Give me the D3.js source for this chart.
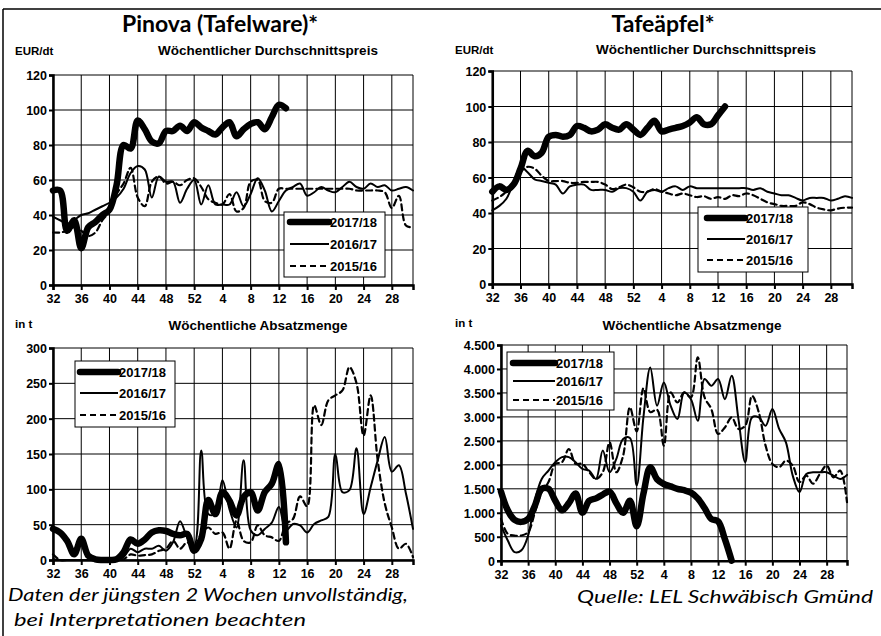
<!DOCTYPE html>
<html><head><meta charset="utf-8">
<script src="https://cdn.jsdelivr.net/npm/d3@7"></script>
<style>
html,body{margin:0;padding:0;background:#fff;}
svg{display:block;}
.b{font-family:"Liberation Sans",Arial,sans-serif;font-weight:bold;fill:#000;}
</style>
</head><body>
<script>
// ---- categories (calendar weeks, season 32 .. 31) ----
const weeks = [32,33,34,35,36,37,38,39,40,41,42,43,44,45,46,47,48,49,50,51,52,
  1,2,3,4,5,6,7,8,9,10,11,12,13,14,15,16,17,18,19,20,21,22,23,24,25,26,27,28,29,30,31];
const seasons = ["2017/18","2016/17","2015/16"];

// ---- Pinova price EUR/dt ----
const pinovaPrice2017 = [54,54,31,37,21,33,36,40,43,57,80,78,94,89,82,81,88,88,91,88,93,90,88,86,90,93,85,89,92,93,89,96,103,101];
const pinovaPrice2016 = [39,37,35,37,40,41,43,45,47,50,55,64,68,66,50,62,59,59,47,55,60,46,57,46,46,46,53,45,52,61,54,42,48,54,56,58,51,53,56,54,53,56,59,56,55,58,56,57,54,55,56,54];
const pinovaPrice2015 = [30,30,31,33,31,28,30,37,42,52,58,67,50,45,59,62,58,59,57,60,61,56,49,47,46,52,42,44,59,60,48,47,55,55,55,55,55,55,55,55,55,55,55,54,54,54,54,53,44,51,34,33];

// ---- Tafeäpfel price EUR/dt ----
const applePrice2017 = [52,55,53,56,65,75,72,74,83,84,83,84,89,88,86,87,90,88,87,90,87,84,88,92,86,87,88,89,91,94,90,90,95,100];
const applePrice2016 = [41.5,44,48,57,66,63,59,58,57,56,51,55,56,56,53,53,53,52,54,54,52,47,52,53,52,54,55,53,55,54,54,54,54,54,54,54,54,53,54,52,51,50,50,48.5,47,48.5,48.5,48.5,47,48,49.5,48.5];
const applePrice2015 = [47,49,52,55,63,66,65,61,58,58,58,57,57,57.5,57.5,57.5,56,53.5,54.5,56,54.5,52,52,53.5,52,51,50,51,50,49,49.5,48,49,48,50,49.5,51,50,48,46,45,44,44,44,46,45,43,42,41.5,42.5,43,43];

// ---- Pinova quantity t ----
const pinovaQty2017 = [44,39,27,8,30,6,1,0,0,1,11,29,23,29,39,42,41,37,35,37,13,30,85,65,96,84,63,89,96,70,96,108,136,25];
const pinovaQty2016 = [1,0,0,0,0,0,0,0,0,0,4,16,11,16,16,20,13,25,55,32,20,155,65,65,113,72,46,141,42,35,44,53,75,42,51,49,39,51,56,61,150,96,99,158,65,103,141,174,125,134,94,44];
const pinovaQty2015 = [8,0,0,0,0,0,0,0,0,0,1,8,6,7,8,13,16,27,16,25,18,37,46,37,39,16,56,27,25,49,35,32,27,51,58,90,76,219,191,226,233,240,273,250,176,233,141,80,46,16,23,4];

// ---- Tafeäpfel quantity t ----
const appleQty2017 = [1440,1050,850,810,870,1150,1500,1500,1250,1050,1200,1400,1000,1250,1300,1380,1440,1200,1000,1250,720,1400,1950,1700,1600,1550,1500,1470,1420,1300,1100,870,820,450,0];
const appleQty2016 = [735,420,180,215,525,1255,1705,1880,2055,2160,2160,2055,1915,1880,1705,2300,1845,2125,2540,2560,1570,3000,4030,3235,3720,3235,2955,3510,3370,2920,3790,3650,3790,3370,3860,2955,2055,2990,2990,2815,3165,2750,2470,1775,1430,1810,1845,1845,1845,1775,1705,1790];
const appleQty2015 = [875,560,525,525,595,1010,1430,1640,2020,2055,2330,2020,2020,1845,1705,1845,2470,1845,2190,3200,2700,3600,3100,3150,2400,3510,3300,3510,3410,4240,3410,3165,2645,2780,2990,2750,2815,3440,3095,2400,2020,1950,2090,1985,1640,1775,1605,1810,1985,1740,1880,1220];

// ---- axis tick values ----
const priceTicks = [0,20,40,60,80,100,120];
const pinovaQtyTicks = [0,50,100,150,200,250,300];
const appleQtyTicks = [0,500,1000,1500,2000,2500,3000,3500,4000,4500];
const xTickIdx = d3.range(0, weeks.length, 4);

const W = 881, H = 636;
const svg = d3.select("body").append("svg").attr("width", W).attr("height", H);

// frame
svg.append("line").attr("x1",3).attr("x2",W).attr("y1",9).attr("y2",9).attr("stroke","#000").attr("stroke-width",1.5);
svg.append("line").attr("x1",3).attr("x2",3).attr("y1",9).attr("y2",H).attr("stroke","#000").attr("stroke-width",1.5);

const fmt = d3.format(",");
const deFmt = v => fmt(v).replace(/,/g, ".");

function panel(cfg) {
  const x = d3.scaleLinear().domain([0, weeks.length - 1]).range([cfg.x0, cfg.x1]);
  const y = d3.scaleLinear().domain([0, cfg.ymax]).range([cfg.y0, cfg.y1]);
  const g = svg.append("g");
  // horizontal grid
  g.selectAll(".hg").data(cfg.ticks).join("line")
    .attr("x1", cfg.x0).attr("x2", cfg.x1).attr("y1", d => y(d)).attr("y2", d => y(d))
    .attr("stroke", "#000").attr("stroke-width", 1);
  // vertical grid
  g.selectAll(".vg").data(xTickIdx.concat([weeks.length - 1])).join("line")
    .attr("x1", d => x(d)).attr("x2", d => x(d)).attr("y1", cfg.y0).attr("y2", cfg.y1)
    .attr("stroke", "#000").attr("stroke-width", 1);
  // axes
  const ya = d3.axisLeft(y).tickValues(cfg.ticks).tickSize(4).tickFormat(cfg.fmt);
  const ga = g.append("g").attr("transform", `translate(${cfg.x0},0)`).call(ya);
  ga.select(".domain").attr("stroke-width", 2.5);
  ga.selectAll(".tick line").attr("stroke-width", 2);
  ga.selectAll("text").attr("class", "b").style("font-size", "12.5px").attr("x", -6).attr("dy", "0.36em");
  const xa = d3.axisBottom(x).tickValues(xTickIdx).tickSize(5).tickFormat(i => weeks[i]);
  const gx = g.append("g").attr("transform", `translate(0,${cfg.y0})`).call(xa);
  gx.select(".domain").attr("stroke-width", 2.5);
  gx.selectAll(".tick line").attr("stroke-width", 2);
  gx.selectAll("text").attr("class", "b").style("font-size", "12.5px").attr("y", 7).attr("dy", "0.9em");

  // series
  const line = d3.line().x((d, i) => x(i)).y(d => y(d)).curve(d3.curveCatmullRom.alpha(0.5));
  const styles = [
    {w: 6.5, dash: null},
    {w: 2, dash: null},
    {w: 2.2, dash: "6,4"}
  ];
  [cfg.s2015, cfg.s2016, cfg.s2017].forEach((s, k) => {
    const st = styles[2 - k];
    g.append("path").datum(s).attr("d", line).attr("fill", "none").attr("stroke", "#000")
      .attr("stroke-width", st.w).attr("stroke-linejoin", "round").attr("stroke-linecap", "round")
      .attr("stroke-dasharray", st.dash);
  });

  // legend
  const L = cfg.leg;
  g.append("rect").attr("x", L.x).attr("y", L.y).attr("width", L.w).attr("height", L.h)
    .attr("fill", "#fff").attr("stroke", "#000").attr("stroke-width", 1);
  seasons.forEach((s, k) => {
    const cy = L.rows[k];
    g.append("line").attr("x1", L.lx0).attr("x2", L.lx1).attr("y1", cy).attr("y2", cy)
      .attr("stroke", "#000").attr("stroke-width", styles[k].w).attr("stroke-linecap", k === 0 ? "round" : "butt")
      .attr("stroke-dasharray", styles[k].dash);
    g.append("text").attr("class", "b").attr("x", L.lx1 + 1).attr("y", cy).attr("dy", "0.36em")
      .style("font-size", "13px").text(s);
  });

  // unit + subtitle
  g.append("text").attr("class", "b").attr("x", cfg.unitX).attr("y", cfg.unitY).style("font-size", "11.5px").text(cfg.unit);
  g.append("text").attr("class", "b").attr("x", cfg.subX).attr("y", cfg.subY).attr("text-anchor", "middle")
    .style("font-size", "13.5px").text(cfg.sub);
}

panel({x0:53, x1:413, y0:285, y1:75, ymax:120, ticks:priceTicks, fmt:d=>d,
  s2017:pinovaPrice2017, s2016:pinovaPrice2016, s2015:pinovaPrice2015,
  leg:{x:284, y:212, w:101, h:65, rows:[222,244,266], lx0:290, lx1:329},
  unit:"EUR/dt", unitX:15, unitY:55, sub:"Wöchentlicher Durchschnittspreis", subX:268, subY:55});

panel({x0:492.3, x1:852, y0:284, y1:71, ymax:120, ticks:priceTicks, fmt:d=>d,
  s2017:applePrice2017, s2016:applePrice2016, s2015:applePrice2015,
  leg:{x:698, y:207, w:110, h:65, rows:[218,239,260], lx0:707, lx1:745},
  unit:"EUR/dt", unitX:455, unitY:54, sub:"Wöchentlicher Durchschnittspreis", subX:706, subY:54});

panel({x0:53, x1:413, y0:560, y1:348, ymax:300, ticks:pinovaQtyTicks, fmt:d=>d,
  s2017:pinovaQty2017, s2016:pinovaQty2016, s2015:pinovaQty2015,
  leg:{x:75, y:361, w:100, h:66, rows:[372,393,415], lx0:80, lx1:118},
  unit:"in t", unitX:15, unitY:328, sub:"Wöchentliche Absatzmenge", subX:258, subY:330});

panel({x0:501, x1:847, y0:560.7, y1:345, ymax:4500, ticks:appleQtyTicks, fmt:deFmt,
  s2017:appleQty2017, s2016:appleQty2016, s2015:appleQty2015,
  leg:{x:507, y:352, w:107, h:58, rows:[363,381,400], lx0:513, lx1:555},
  unit:"in t", unitX:455, unitY:327, sub:"Wöchentliche Absatzmenge", subX:692, subY:330});

// titles
svg.append("text").attr("x", 220).attr("y", 32).attr("text-anchor", "middle")
  .style("font-family", "Lato, 'Noto Sans', sans-serif").style("font-weight", "bold").style("font-size", "23px")
  .text("Pinova (Tafelware)*");
svg.append("text").attr("x", 663).attr("y", 32).attr("text-anchor", "middle")
  .style("font-family", "Lato, 'Noto Sans', sans-serif").style("font-weight", "bold").style("font-size", "23px")
  .text("Tafeäpfel*");

// footnotes
const foot = svg.append("g").style("font-family", "Lato, 'Noto Sans', sans-serif").style("font-style", "italic").style("font-size", "17px");
foot.append("text").attr("x", 8).attr("y", 601).attr("textLength", 400).attr("lengthAdjust", "spacingAndGlyphs")
  .text("Daten der jüngsten 2 Wochen unvollständig,");
foot.append("text").attr("x", 14).attr("y", 626).attr("textLength", 292).attr("lengthAdjust", "spacingAndGlyphs")
  .text("bei Interpretationen beachten");
foot.append("text").attr("x", 577).attr("y", 603).attr("textLength", 296).attr("lengthAdjust", "spacingAndGlyphs")
  .text("Quelle: LEL Schwäbisch Gmünd");
</script>
</body></html>
